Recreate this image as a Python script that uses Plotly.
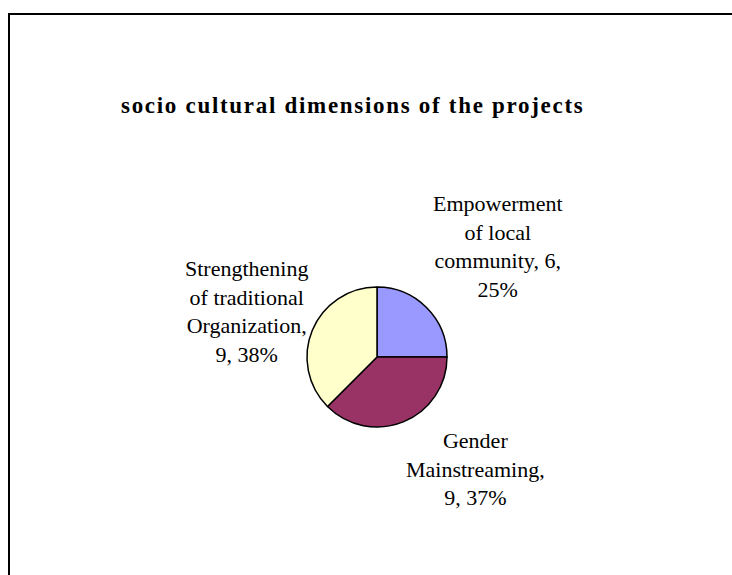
import plotly.graph_objects as go

# Chart data
categories = ["Empowerment of local community", "Gender Mainstreaming",
              "Strengthening of traditional Organization"]
counts = [6, 9, 9]
percents = [25, 37, 38]
colors = ["#9999FF", "#993366", "#FFFFCC"]
label_lines = [
    ["Empowerment", "of local", "community, {n},", "{p}%"],
    ["Gender", "Mainstreaming,", "{n}, {p}%"],
    ["Strengthening", "of traditional", "Organization,", "{n}, {p}%"],
]
title_text = "socio cultural dimensions of the projects"

W, H = 732, 575
SERIF = "Liberation Serif, Times New Roman, serif"

# Pie placement in pixels
cx, cy, r = 377, 357, 70


def px(x):
    return x / W


def py(y):
    return 1 - y / H


fig = go.Figure()
fig.add_trace(go.Pie(
    labels=categories,
    values=counts,
    marker=dict(colors=colors, line=dict(color="black", width=1.5)),
    sort=False,
    direction="clockwise",
    rotation=0,
    textinfo="none",
    hoverinfo="label+value+percent",
    showlegend=False,
    domain=dict(x=[px(cx - r), px(cx + r)], y=[py(cy + r), py(cy - r)]),
))

# Data labels: category, value, percentage
label_pos = [(498, 247), (476, 469), (246, 311)]
for lines, n, p, (lx, ly) in zip(label_lines, counts, percents, label_pos):
    text = "<br>".join(s.format(n=n, p=p) for s in lines)
    fig.add_annotation(
        x=px(lx), y=py(ly), xref="paper", yref="paper",
        text=text, showarrow=False, align="center",
        xanchor="center", yanchor="middle",
        font=dict(family=SERIF, size=22, color="black"),
    )

# Title
fig.add_annotation(
    x=px(352), y=py(105), xref="paper", yref="paper",
    text=f'<span style="letter-spacing:1.7px"><b>{title_text}</b></span>',
    showarrow=False, xanchor="center", yanchor="middle",
    font=dict(family=SERIF, size=23, color="black"),
)

# Chart area border
fig.add_shape(type="rect", xref="paper", yref="paper",
              x0=px(9), y0=py(H + 10), x1=px(W + 10), y1=py(14),
              line=dict(color="black", width=2), fillcolor="rgba(0,0,0,0)")

fig.update_layout(
    width=W, height=H,
    margin=dict(l=0, r=0, t=0, b=0),
    paper_bgcolor="white", plot_bgcolor="white",
)

fig.write_html("out.html")
